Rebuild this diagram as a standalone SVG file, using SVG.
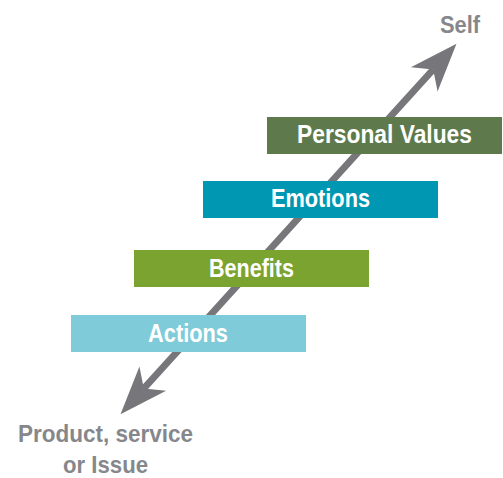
<svg xmlns="http://www.w3.org/2000/svg" width="503" height="478" viewBox="0 0 503 478">
<style>
.lbl{font-family:"Liberation Sans",Arial,sans-serif;font-weight:bold;fill:#ffffff;font-size:25px}
.end{font-family:"Liberation Sans",Arial,sans-serif;font-weight:bold;fill:#86878b;font-size:24px}
</style>
<defs>
<marker id="head" markerUnits="userSpaceOnUse" markerWidth="60" markerHeight="60" viewBox="-15 -20 45 40" refX="0" refY="0" orient="auto-start-reverse">
<path d="M26,0 L-10,-13.5 L0,0 L-10,13.5 Z" fill="#77777b"/>
</marker>
</defs>
<g id="connectors">
<line x1="143.8" y1="388.5" x2="433.2" y2="69.5" stroke="#77777b" stroke-width="7" marker-start="url(#head)" marker-end="url(#head)"/>
</g>
<g id="actions">
<rect x="71" y="315" width="235" height="37" fill="#80cbd9"/>
<text class="lbl" x="148" y="342" textLength="80" lengthAdjust="spacingAndGlyphs">Actions</text>
</g>
<g id="benefits">
<rect x="134" y="250" width="235" height="37" fill="#7aa330"/>
<text class="lbl" x="209" y="277" textLength="85" lengthAdjust="spacingAndGlyphs">Benefits</text>
</g>
<g id="emotions">
<rect x="203" y="181" width="235" height="37" fill="#0097b3"/>
<text class="lbl" x="271" y="207" textLength="99" lengthAdjust="spacingAndGlyphs">Emotions</text>
</g>
<g id="personal-values">
<rect x="267" y="117" width="235" height="37" fill="#5e7a4c"/>
<text class="lbl" x="297" y="143" textLength="175" lengthAdjust="spacingAndGlyphs">Personal Values</text>
</g>
<g id="self">
<text class="end" x="440" y="33" textLength="40" lengthAdjust="spacingAndGlyphs">Self</text>
</g>
<g id="product">
<text class="end" x="18" y="442" textLength="175" lengthAdjust="spacingAndGlyphs">Product, service</text>
<text class="end" x="63" y="473" textLength="85" lengthAdjust="spacingAndGlyphs">or Issue</text>
</g>
</svg>
